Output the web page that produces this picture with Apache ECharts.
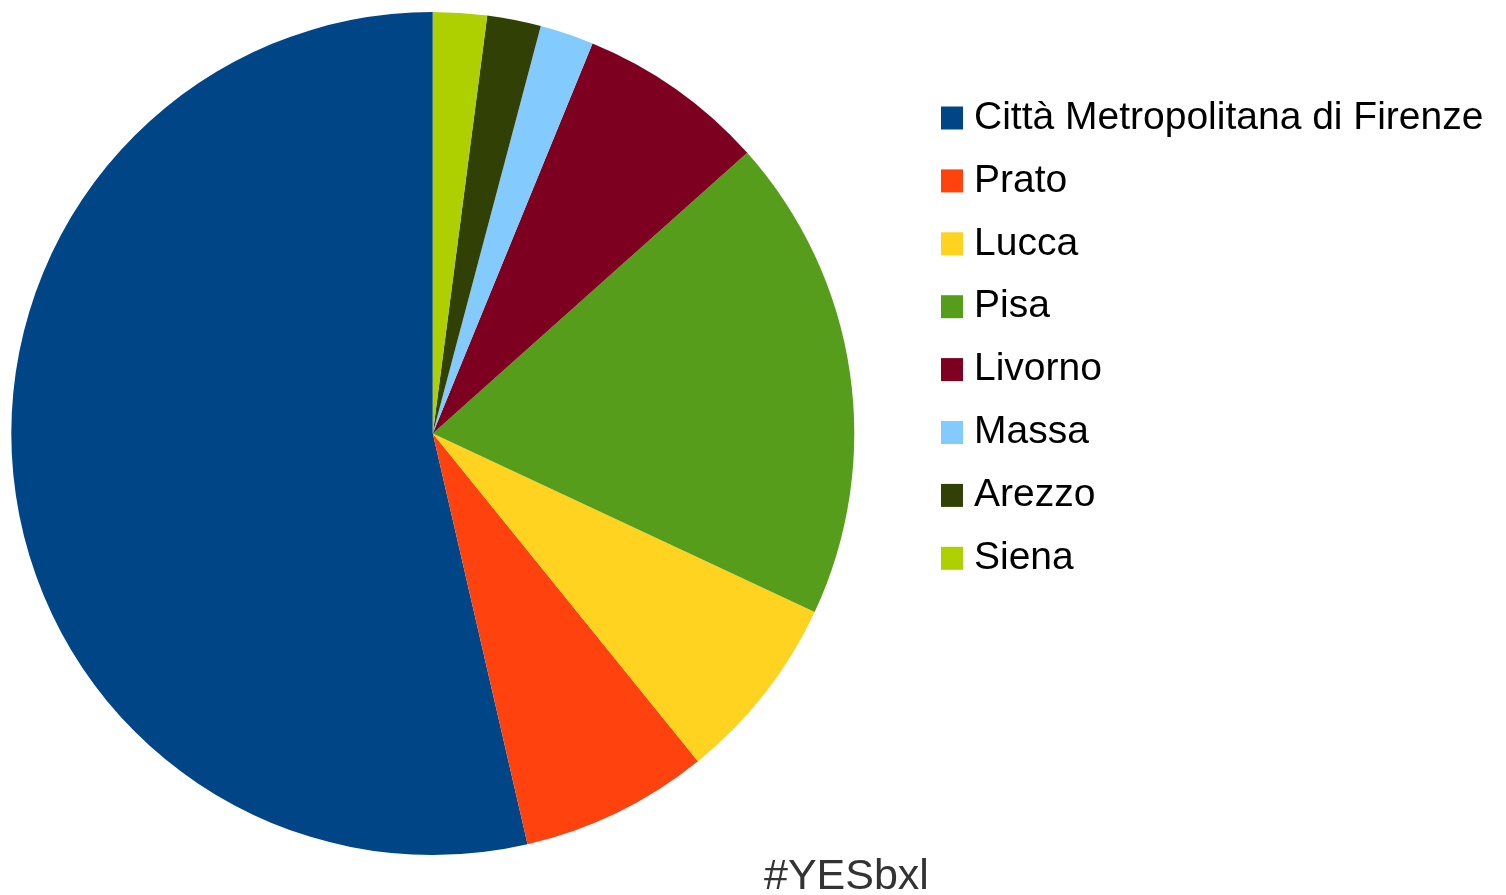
<!DOCTYPE html>
<html>
<head>
<meta charset="utf-8">
<script src="https://cdn.jsdelivr.net/npm/echarts@6/dist/echarts.min.js"></script>
<style>
html,body{margin:0;padding:0;background:#fff;}
#chart{width:1506px;height:895px;}
</style>
</head>
<body>
<div id="chart"></div>
<script>
const categories = ["Città Metropolitana di Firenze", "Prato", "Lucca", "Pisa", "Livorno", "Massa", "Arezzo", "Siena"];
const values = [52, 7, 7, 18, 7, 2, 2, 2];
const colors = ["#004586", "#ff420e", "#ffd320", "#579d1c", "#7e0021", "#83caff", "#314004", "#aecf00"];
const watermark = "#YESbxl";

const chart = echarts.init(document.getElementById('chart'), null, {renderer: 'canvas'});
chart.setOption({
  animation: false,
  backgroundColor: '#ffffff',
  color: colors,
  legend: {
    orient: 'vertical',
    left: 936,
    top: 93,
    icon: 'rect',
    itemWidth: 22,
    itemHeight: 23,
    itemGap: 22.9,
    selectedMode: false,
    textStyle: {
      fontFamily: 'Liberation Sans, Arial, sans-serif',
      fontSize: 39,
      lineHeight: 40,
      color: '#000000',
      padding: [0, 0, 0, 6]
    },
    data: categories
  },
  graphic: [{
    type: 'text',
    left: 764,
    top: 856,
    style: {
      text: watermark,
      fontFamily: 'Liberation Sans, Arial, sans-serif',
      fontSize: 43,
      fill: '#333333'
    }
  }],
  series: [{
    type: 'pie',
    center: [432.8, 433.5],
    radius: [0, 421.5],
    startAngle: 90,
    clockwise: false,
    label: {show: false},
    labelLine: {show: false},
    emphasis: {disabled: true},
    itemStyle: {borderWidth: 0},
    data: categories.map((c, i) => ({name: c, value: values[i]}))
  }]
});
</script>
</body>
</html>
